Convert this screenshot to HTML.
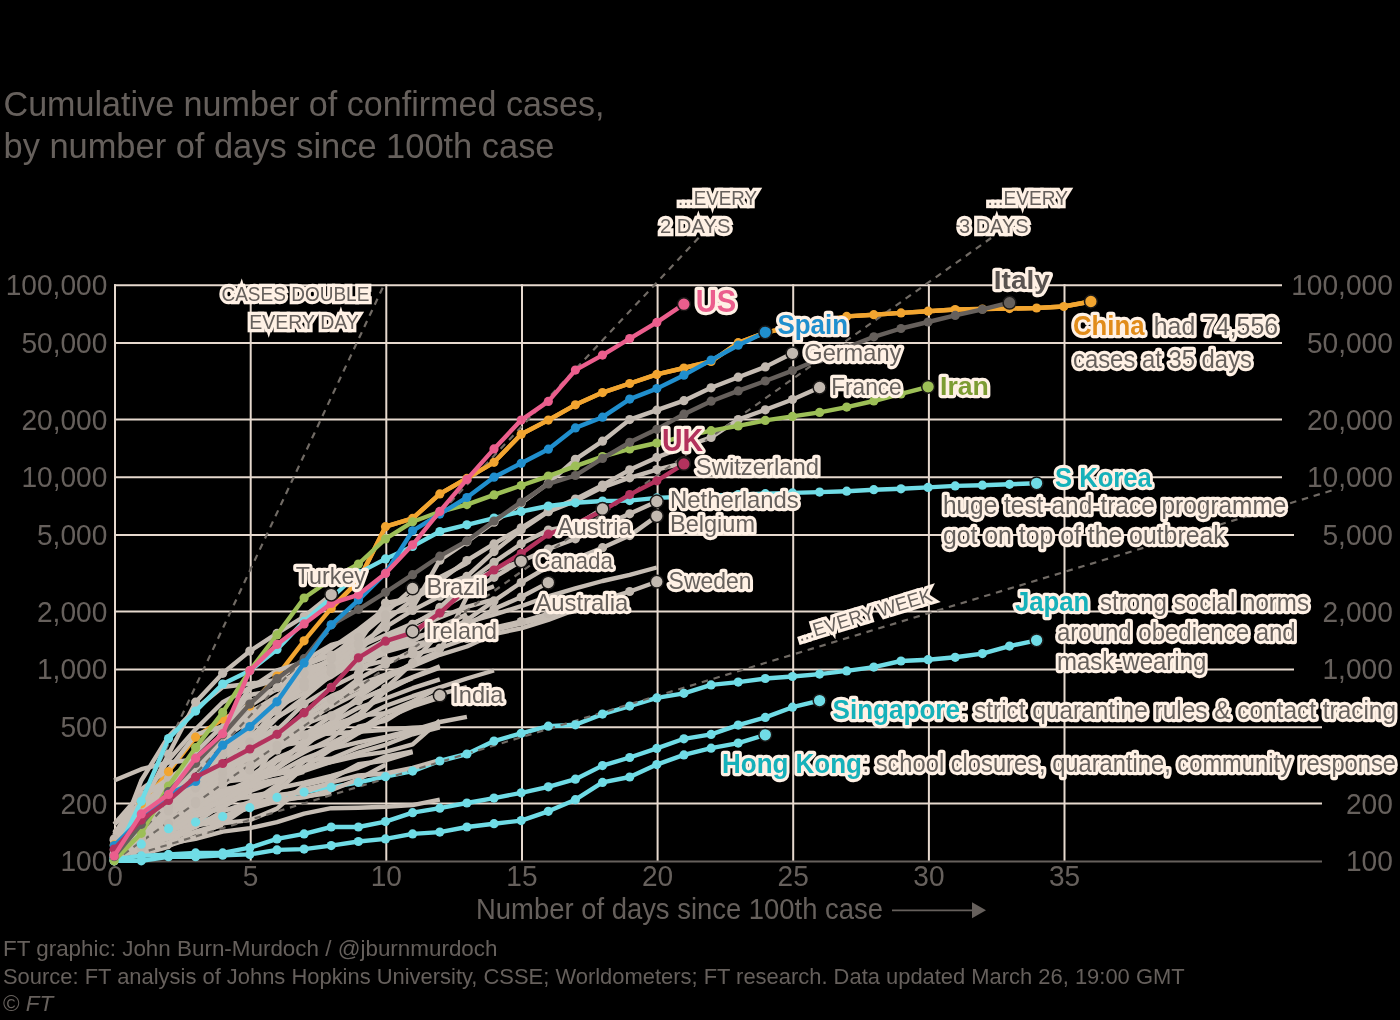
<!DOCTYPE html>
<html lang="en"><head><meta charset="utf-8"><title>Coronavirus trajectories</title>
<style>html,body{margin:0;padding:0;background:#000;}body{width:1400px;height:1020px;overflow:hidden;}svg{display:block;font-family:"Liberation Sans",Arial,sans-serif;}.h{stroke:#fff1e5;stroke-width:6.3px;paint-order:stroke fill;stroke-linejoin:round;}.m{stroke-linejoin:miter;stroke-miterlimit:3.4;}</style></head><body>
<svg width="1400" height="1020" viewBox="0 0 1400 1020">
<rect width="1400" height="1020" fill="#000"/>
<text x="3.5" y="115.7" font-size="34.5" fill="#66605c" textLength="601.0" lengthAdjust="spacingAndGlyphs">Cumulative number of confirmed cases,</text>
<text x="3.5" y="158.4" font-size="34.5" fill="#66605c" textLength="551.0" lengthAdjust="spacingAndGlyphs">by number of days since 100th case</text>
<g stroke="#e6d9ce" stroke-width="2" fill="none">
<line x1="114" y1="285.3" x2="1282" y2="285.3"/>
<line x1="114" y1="343.1" x2="1282" y2="343.1"/>
<line x1="114" y1="419.5" x2="1282" y2="419.5"/>
<line x1="114" y1="477.3" x2="1282" y2="477.3"/>
<line x1="114" y1="535.1" x2="1294" y2="535.1"/>
<line x1="114" y1="611.6" x2="1294" y2="611.6"/>
<line x1="114" y1="669.4" x2="1294" y2="669.4"/>
<line x1="114" y1="727.2" x2="1322" y2="727.2"/>
<line x1="114" y1="803.6" x2="1322" y2="803.6"/>
<line x1="115.0" y1="284.3" x2="115.0" y2="861.4"/>
<line x1="250.7" y1="284.3" x2="250.7" y2="861.4"/>
<line x1="386.3" y1="284.3" x2="386.3" y2="861.4"/>
<line x1="522.0" y1="284.3" x2="522.0" y2="861.4"/>
<line x1="657.6" y1="284.3" x2="657.6" y2="861.4"/>
<line x1="793.2" y1="284.3" x2="793.2" y2="861.4"/>
<line x1="928.9" y1="284.3" x2="928.9" y2="861.4"/>
<line x1="1064.5" y1="284.3" x2="1064.5" y2="861.4"/>
</g>
<line x1="114" y1="861.4" x2="1322" y2="861.4" stroke="#66605c" stroke-width="2"/>
<text x="5.7" y="295.3" font-size="29" fill="#66605c" textLength="101.6" lengthAdjust="spacingAndGlyphs">100,000</text>
<text x="1291.2" y="295.3" font-size="29" fill="#66605c" textLength="101.6" lengthAdjust="spacingAndGlyphs">100,000</text>
<text x="21.4" y="353.1" font-size="29" fill="#66605c" textLength="85.9" lengthAdjust="spacingAndGlyphs">50,000</text>
<text x="1306.9" y="353.1" font-size="29" fill="#66605c" textLength="85.9" lengthAdjust="spacingAndGlyphs">50,000</text>
<text x="21.4" y="429.5" font-size="29" fill="#66605c" textLength="85.9" lengthAdjust="spacingAndGlyphs">20,000</text>
<text x="1306.9" y="429.5" font-size="29" fill="#66605c" textLength="85.9" lengthAdjust="spacingAndGlyphs">20,000</text>
<text x="21.4" y="487.3" font-size="29" fill="#66605c" textLength="85.9" lengthAdjust="spacingAndGlyphs">10,000</text>
<text x="1306.9" y="487.3" font-size="29" fill="#66605c" textLength="85.9" lengthAdjust="spacingAndGlyphs">10,000</text>
<text x="37.0" y="545.1" font-size="29" fill="#66605c" textLength="70.3" lengthAdjust="spacingAndGlyphs">5,000</text>
<text x="1322.5" y="545.1" font-size="29" fill="#66605c" textLength="70.3" lengthAdjust="spacingAndGlyphs">5,000</text>
<text x="37.0" y="621.6" font-size="29" fill="#66605c" textLength="70.3" lengthAdjust="spacingAndGlyphs">2,000</text>
<text x="1322.5" y="621.6" font-size="29" fill="#66605c" textLength="70.3" lengthAdjust="spacingAndGlyphs">2,000</text>
<text x="37.0" y="679.4" font-size="29" fill="#66605c" textLength="70.3" lengthAdjust="spacingAndGlyphs">1,000</text>
<text x="1322.5" y="679.4" font-size="29" fill="#66605c" textLength="70.3" lengthAdjust="spacingAndGlyphs">1,000</text>
<text x="60.4" y="737.2" font-size="29" fill="#66605c" textLength="46.9" lengthAdjust="spacingAndGlyphs">500</text>
<text x="60.4" y="813.6" font-size="29" fill="#66605c" textLength="46.9" lengthAdjust="spacingAndGlyphs">200</text>
<text x="1345.9" y="813.6" font-size="29" fill="#66605c" textLength="46.9" lengthAdjust="spacingAndGlyphs">200</text>
<text x="60.4" y="871.4" font-size="29" fill="#66605c" textLength="46.9" lengthAdjust="spacingAndGlyphs">100</text>
<text x="1345.9" y="871.4" font-size="29" fill="#66605c" textLength="46.9" lengthAdjust="spacingAndGlyphs">100</text>
<text x="107.2" y="886.0" font-size="29" fill="#66605c" textLength="15.6" lengthAdjust="spacingAndGlyphs">0</text>
<text x="242.8" y="886.0" font-size="29" fill="#66605c" textLength="15.6" lengthAdjust="spacingAndGlyphs">5</text>
<text x="370.7" y="886.0" font-size="29" fill="#66605c" textLength="31.2" lengthAdjust="spacingAndGlyphs">10</text>
<text x="506.3" y="886.0" font-size="29" fill="#66605c" textLength="31.2" lengthAdjust="spacingAndGlyphs">15</text>
<text x="642.0" y="886.0" font-size="29" fill="#66605c" textLength="31.2" lengthAdjust="spacingAndGlyphs">20</text>
<text x="777.6" y="886.0" font-size="29" fill="#66605c" textLength="31.2" lengthAdjust="spacingAndGlyphs">25</text>
<text x="913.3" y="886.0" font-size="29" fill="#66605c" textLength="31.2" lengthAdjust="spacingAndGlyphs">30</text>
<text x="1048.9" y="886.0" font-size="29" fill="#66605c" textLength="31.2" lengthAdjust="spacingAndGlyphs">35</text>
<text x="476.0" y="919.2" font-size="29" fill="#66605c" textLength="407.0" lengthAdjust="spacingAndGlyphs">Number of days since 100th case</text>
<line x1="892" y1="910.3" x2="975" y2="910.3" stroke="#66605c" stroke-width="1.8"/>
<path d="M972 902.3 L986 910.3 L972 918.3 Z" fill="#66605c"/>
<path d="M114.2 856.7 L141.3 844.2 L168.5 828.7 L195.6 822.1 L222.7 816.5 L249.8 807.7 L277.0 797.4 L304.1 792.1 L331.2 787.4 L358.4 782.4 L385.5 776.7 L412.6 771.1 L439.8 761.0 L466.9 754.0 L494.0 741.1 L521.2 733.3 L548.3 726.2 L575.4 724.8 L602.5 714.1 L629.7 706.1 L656.8 697.9 L683.9 693.3 L711.1 684.9 L738.2 682.1 L765.3 678.5 L792.5 676.5 L819.6 674.1 L846.7 670.9 L873.8 667.1 L901.0 661.0 L928.1 659.7 L955.2 657.3 L982.4 653.6 L1009.5 646.1 L1036.6 640.3" fill="none" stroke="#70dce6" stroke-width="4.4" stroke-linejoin="round" stroke-linecap="butt"/>
<path d="M114.2 844.9 L141.3 803.8 L168.5 771.7 L195.6 737.2 L222.7 719.1 L249.8 706.1 L277.0 676.1 L304.1 640.8 L331.2 608.4 L358.4 581.0 L385.5 526.7 L412.6 518.4 L439.8 493.9 L466.9 478.4 L494.0 462.3 L521.2 434.3 L548.3 420.1 L575.4 404.8 L602.5 392.6 L629.7 383.5 L656.8 374.4 L683.9 368.0 L711.1 361.5 L738.2 342.7 L765.3 332.6 L792.5 326.6 L819.6 321.3 L846.7 316.4 L873.8 314.7 L901.0 312.9 L928.1 311.2 L955.2 309.5 L982.4 309.0 L1009.5 308.6 L1036.6 308.0 L1063.8 306.5 L1090.9 301.5" fill="none" stroke="#f2a530" stroke-width="4.4" stroke-linejoin="round" stroke-linecap="butt"/>
<g>
<path d="M114.2 854.4 L141.3 828.7 L168.5 813.7 L195.6 800.9 L222.7 745.2 L249.8 711.7 L277.0 698.3 L304.1 669.1 L331.2 661.6 L358.4 652.1 L385.5 644.8 L412.6 637.0 L439.8 632.2 L466.9 622.3 L494.0 614.6 L521.2 606.2 L548.3 596.3 L575.4 588.4 L602.5 581.0 L629.7 574.8 L656.8 567.5" fill="none" stroke="#c6bdb4" stroke-width="4.4" stroke-linejoin="round" stroke-linecap="butt"/>
<path d="M114.2 850.6 L141.3 780.5 L168.5 736.5 L195.6 709.0 L222.7 687.0 L249.8 683.7 L277.0 679.9 L304.1 674.6 L331.2 666.7 L358.4 659.6 L385.5 651.8 L412.6 644.5 L439.8 639.5 L466.9 634.2 L494.0 630.0 L521.2 623.6 L548.3 616.9 L575.4 610.0" fill="none" stroke="#c6bdb4" stroke-width="4.4" stroke-linejoin="round" stroke-linecap="butt"/>
<path d="M114.2 851.3 L141.3 817.0 L168.5 786.1 L195.6 761.0 L222.7 735.7 L249.8 705.7 L277.0 689.0 L304.1 667.1 L331.2 648.2 L358.4 629.6 L385.5 608.5 L412.6 597.1 L439.8 577.3 L466.9 563.3" fill="none" stroke="#c6bdb4" stroke-width="4.4" stroke-linejoin="round" stroke-linecap="butt"/>
<path d="M114.2 832.1 L141.3 807.7 L168.5 783.4 L195.6 769.7 L222.7 746.0 L249.8 732.8 L277.0 699.2 L304.1 684.0 L331.2 669.2 L358.4 659.3 L385.5 651.1 L412.6 641.1 L439.8 626.8 L466.9 614.2" fill="none" stroke="#c6bdb4" stroke-width="4.4" stroke-linejoin="round" stroke-linecap="butt"/>
<path d="M114.2 860.8 L141.3 841.5 L168.5 824.3 L195.6 797.7 L222.7 795.8 L249.8 784.4 L277.0 768.1 L304.1 739.7 L331.2 721.9 L358.4 697.1 L385.5 679.1 L412.6 663.0 L439.8 651.0 L466.9 596.8 L494.0 586.2" fill="none" stroke="#c6bdb4" stroke-width="4.4" stroke-linejoin="round" stroke-linecap="butt"/>
<path d="M114.2 847.7 L141.3 839.6 L168.5 827.5 L195.6 822.7 L222.7 804.3 L249.8 788.5 L277.0 739.5 L304.1 716.2 L331.2 701.8 L358.4 688.4 L385.5 677.6 L412.6 666.3 L439.8 654.8 L466.9 646.5 L494.0 634.0 L521.2 628.3 L548.3 619.9 L575.4 609.7" fill="none" stroke="#c6bdb4" stroke-width="4.4" stroke-linejoin="round" stroke-linecap="butt"/>
<path d="M114.2 861.6 L141.3 807.3 L168.5 792.1 L195.6 761.0 L222.7 755.8 L249.8 747.9 L277.0 741.5 L304.1 732.8 L331.2 727.4 L358.4 719.4 L385.5 706.0 L412.6 696.2 L439.8 687.4 L466.9 678.5 L494.0 670.5" fill="none" stroke="#c6bdb4" stroke-width="4.4" stroke-linejoin="round" stroke-linecap="butt"/>
<path d="M114.2 824.3 L141.3 793.2 L168.5 786.4 L195.6 775.8 L222.7 763.5 L249.8 759.7 L277.0 745.2 L304.1 735.4 L331.2 722.8 L358.4 707.8 L385.5 698.5 L412.6 688.2 L439.8 679.4" fill="none" stroke="#c6bdb4" stroke-width="4.4" stroke-linejoin="round" stroke-linecap="butt"/>
<path d="M114.2 836.4 L141.3 823.7 L168.5 816.1 L195.6 811.8 L222.7 795.0 L249.8 784.4 L277.0 761.2 L304.1 743.3 L331.2 731.2 L358.4 715.9 L385.5 713.1 L412.6 705.0 L439.8 694.2 L466.9 687.2" fill="none" stroke="#c6bdb4" stroke-width="4.4" stroke-linejoin="round" stroke-linecap="butt"/>
<path d="M114.2 858.3 L141.3 846.3 L168.5 813.2 L195.6 788.5 L222.7 784.1 L249.8 755.1 L277.0 740.1 L304.1 720.8 L331.2 706.8 L358.4 692.9 L385.5 677.5 L412.6 664.6 L439.8 652.1" fill="none" stroke="#c6bdb4" stroke-width="4.4" stroke-linejoin="round" stroke-linecap="butt"/>
<path d="M114.2 832.1 L141.3 811.3 L168.5 795.4 L195.6 783.4 L222.7 776.4 L249.8 774.9 L277.0 773.2 L304.1 758.5 L331.2 748.8 L358.4 742.3 L385.5 736.9 L412.6 730.0 L439.8 722.0 L466.9 716.8" fill="none" stroke="#c6bdb4" stroke-width="4.4" stroke-linejoin="round" stroke-linecap="butt"/>
<path d="M114.2 843.5 L141.3 838.3 L168.5 822.7 L195.6 809.9 L222.7 781.1 L249.8 775.8 L277.0 767.0 L304.1 752.4 L331.2 738.6 L358.4 714.8 L385.5 688.0 L412.6 677.0 L439.8 666.4" fill="none" stroke="#c6bdb4" stroke-width="4.4" stroke-linejoin="round" stroke-linecap="butt"/>
<path d="M114.2 849.1 L141.3 816.1 L168.5 800.9 L195.6 793.2 L222.7 781.8 L249.8 778.9 L277.0 774.0 L304.1 767.5 L331.2 762.2 L358.4 755.8 L385.5 751.9 L412.6 744.4 L439.8 720.5" fill="none" stroke="#c6bdb4" stroke-width="4.4" stroke-linejoin="round" stroke-linecap="butt"/>
<path d="M114.2 780.5 L141.3 769.2 L168.5 762.5 L195.6 759.5 L222.7 745.0 L249.8 737.4 L277.0 736.3 L304.1 735.0 L331.2 733.5 L358.4 731.7 L385.5 729.8 L412.6 727.6 L439.8 726.4" fill="none" stroke="#c6bdb4" stroke-width="4.4" stroke-linejoin="round" stroke-linecap="butt"/>
<path d="M114.2 852.9 L141.3 805.1 L168.5 804.7 L195.6 803.4 L222.7 798.9 L249.8 797.4 L277.0 795.0 L304.1 792.1 L331.2 782.4 L358.4 775.5 L385.5 773.5 L412.6 767.8 L439.8 760.2" fill="none" stroke="#c6bdb4" stroke-width="4.4" stroke-linejoin="round" stroke-linecap="butt"/>
<path d="M114.2 857.5 L141.3 851.3 L168.5 843.5 L195.6 838.9 L222.7 831.6 L249.8 828.1 L277.0 822.1 L304.1 813.7 L331.2 808.2 L358.4 807.7 L385.5 806.8 L412.6 805.1 L439.8 799.7" fill="none" stroke="#c6bdb4" stroke-width="4.4" stroke-linejoin="round" stroke-linecap="butt"/>
<path d="M114.2 853.6 L141.3 852.9 L168.5 827.0 L195.6 804.7 L222.7 803.0 L249.8 782.4 L277.0 773.5 L304.1 770.9 L331.2 762.0 L358.4 752.6 L385.5 744.8 L412.6 734.3 L439.8 727.4" fill="none" stroke="#c6bdb4" stroke-width="4.4" stroke-linejoin="round" stroke-linecap="butt"/>
<path d="M114.2 852.9 L141.3 848.4 L168.5 842.9 L195.6 824.8 L222.7 819.5 L249.8 806.4 L277.0 799.7 L304.1 797.4 L331.2 790.3 L358.4 779.2 L385.5 764.8" fill="none" stroke="#c6bdb4" stroke-width="4.4" stroke-linejoin="round" stroke-linecap="butt"/>
<path d="M114.2 852.9 L141.3 849.1 L168.5 845.6 L195.6 837.0 L222.7 823.2 L249.8 820.1 L277.0 808.6 L304.1 785.1 L331.2 778.9 L358.4 764.3 L385.5 760.5 L412.6 752.1" fill="none" stroke="#c6bdb4" stroke-width="4.4" stroke-linejoin="round" stroke-linecap="butt"/>
<path d="M114.2 852.1 L141.3 832.7 L168.5 831.6 L195.6 808.6 L222.7 802.2 L249.8 796.2 L277.0 791.3 L304.1 767.3 L331.2 749.5 L358.4 733.2 L385.5 718.3 L412.6 706.5 L439.8 697.7" fill="none" stroke="#c6bdb4" stroke-width="4.4" stroke-linejoin="round" stroke-linecap="butt"/>
<path d="M114.2 847.7 L141.3 836.4 L168.5 815.6 L195.6 792.4 L222.7 766.2 L249.8 751.9 L277.0 735.4 L304.1 724.3 L331.2 714.3 L358.4 700.2 L385.5 688.4 L412.6 678.2" fill="none" stroke="#c6bdb4" stroke-width="4.4" stroke-linejoin="round" stroke-linecap="butt"/>
<path d="M114.2 849.9 L141.3 828.7 L168.5 813.2 L195.6 798.1 L222.7 777.3 L249.8 763.3 L277.0 742.9 L304.1 711.5 L331.2 696.1 L358.4 684.6 L385.5 674.5 L412.6 665.1" fill="none" stroke="#c6bdb4" stroke-width="4.4" stroke-linejoin="round" stroke-linecap="butt"/>
<path d="M114.2 835.2 L141.3 789.2 L168.5 769.5 L195.6 734.6 L222.7 726.4 L249.8 695.0 L277.0 689.9 L304.1 679.9 L331.2 671.1 L358.4 663.7 L385.5 653.5" fill="none" stroke="#c6bdb4" stroke-width="4.4" stroke-linejoin="round" stroke-linecap="butt"/>
<path d="M114.2 858.3 L141.3 854.4 L168.5 847.0 L195.6 816.1 L222.7 807.3 L249.8 776.7 L277.0 757.8 L304.1 746.9 L331.2 724.8 L358.4 716.8 L385.5 690.9 L412.6 677.6 L439.8 667.8" fill="none" stroke="#c6bdb4" stroke-width="4.4" stroke-linejoin="round" stroke-linecap="butt"/>
<path d="M114.2 824.3 L141.3 802.6 L168.5 788.5 L195.6 778.0 L222.7 738.4 L249.8 720.6 L277.0 707.0 L304.1 693.2 L331.2 675.5 L358.4 657.7 L385.5 646.5" fill="none" stroke="#c6bdb4" stroke-width="4.4" stroke-linejoin="round" stroke-linecap="butt"/>
<path d="M114.2 852.1 L141.3 817.5 L168.5 803.4 L195.6 752.4 L222.7 725.6 L249.8 688.5 L277.0 670.4 L304.1 662.2 L331.2 655.5 L358.4 640.5" fill="none" stroke="#c6bdb4" stroke-width="4.4" stroke-linejoin="round" stroke-linecap="butt"/>
<path d="M114.2 847.7 L141.3 829.8 L168.5 789.9 L195.6 787.8 L222.7 764.3 L249.8 753.3 L277.0 746.2 L304.1 741.9 L331.2 730.0 L358.4 714.2" fill="none" stroke="#c6bdb4" stroke-width="4.4" stroke-linejoin="round" stroke-linecap="butt"/>
<path d="M114.2 847.0 L141.3 819.5 L168.5 801.8 L195.6 784.1 L222.7 764.8 L249.8 752.4 L277.0 744.2 L304.1 730.9" fill="none" stroke="#c6bdb4" stroke-width="4.4" stroke-linejoin="round" stroke-linecap="butt"/>
<path d="M114.2 849.9 L141.3 828.7 L168.5 803.4 L195.6 783.4 L222.7 767.5 L249.8 752.4 L277.0 737.6 L304.1 727.4 L331.2 703.7 L358.4 683.3" fill="none" stroke="#c6bdb4" stroke-width="4.4" stroke-linejoin="round" stroke-linecap="butt"/>
<path d="M114.2 848.4 L141.3 827.0 L168.5 802.2 L195.6 787.8 L222.7 776.7 L249.8 744.8 L277.0 718.0 L304.1 697.5 L331.2 675.1" fill="none" stroke="#c6bdb4" stroke-width="4.4" stroke-linejoin="round" stroke-linecap="butt"/>
<path d="M114.2 832.7 L141.3 801.8 L168.5 760.0 L195.6 729.3 L222.7 702.2 L249.8 687.6 L277.0 679.9 L304.1 660.9 L331.2 644.8 L358.4 637.6" fill="none" stroke="#c6bdb4" stroke-width="4.4" stroke-linejoin="round" stroke-linecap="butt"/>
<path d="M114.2 840.2 L141.3 822.7 L168.5 779.2 L195.6 768.9 L222.7 747.9 L249.8 745.2 L277.0 726.2" fill="none" stroke="#c6bdb4" stroke-width="4.4" stroke-linejoin="round" stroke-linecap="butt"/>
<path d="M114.2 859.1 L141.3 840.2 L168.5 804.7 L195.6 791.0 L222.7 775.8 L249.8 749.9 L277.0 731.7 L304.1 728.1" fill="none" stroke="#c6bdb4" stroke-width="4.4" stroke-linejoin="round" stroke-linecap="butt"/>
<path d="M114.2 834.5 L141.3 803.0 L168.5 786.1 L195.6 765.6 L222.7 757.5 L249.8 736.7 L277.0 717.4 L304.1 701.7" fill="none" stroke="#c6bdb4" stroke-width="4.4" stroke-linejoin="round" stroke-linecap="butt"/>
<path d="M114.2 856.7 L141.3 840.2 L168.5 800.5 L195.6 783.1 L222.7 765.1 L249.8 749.0 L277.0 736.9 L304.1 727.4" fill="none" stroke="#c6bdb4" stroke-width="4.4" stroke-linejoin="round" stroke-linecap="butt"/>
<path d="M114.2 858.3 L141.3 835.8 L168.5 816.1 L195.6 794.3 L222.7 784.7 L249.8 768.3 L277.0 748.6 L304.1 734.1" fill="none" stroke="#c6bdb4" stroke-width="4.4" stroke-linejoin="round" stroke-linecap="butt"/>
<path d="M114.2 849.1 L141.3 835.2 L168.5 821.6 L195.6 805.5 L222.7 789.5 L249.8 784.7 L277.0 779.5 L304.1 772.0" fill="none" stroke="#c6bdb4" stroke-width="4.4" stroke-linejoin="round" stroke-linecap="butt"/>
<path d="M114.2 840.9 L141.3 820.1 L168.5 808.6 L195.6 802.6 L222.7 795.8 L249.8 787.1 L277.0 779.8" fill="none" stroke="#c6bdb4" stroke-width="4.4" stroke-linejoin="round" stroke-linecap="butt"/>
<path d="M114.2 842.9 L141.3 833.3 L168.5 811.8 L195.6 804.3 L222.7 794.7 L249.8 786.4" fill="none" stroke="#c6bdb4" stroke-width="4.4" stroke-linejoin="round" stroke-linecap="butt"/>
<path d="M114.2 856.7 L141.3 843.5 L168.5 834.5 L195.6 812.7 L222.7 809.5 L249.8 809.0 L277.0 801.3 L304.1 796.6 L331.2 792.8" fill="none" stroke="#c6bdb4" stroke-width="4.4" stroke-linejoin="round" stroke-linecap="butt"/>
<path d="M114.2 858.3 L141.3 838.3 L168.5 818.0 L195.6 808.6 L222.7 792.8 L249.8 780.8" fill="none" stroke="#c6bdb4" stroke-width="4.4" stroke-linejoin="round" stroke-linecap="butt"/>
<path d="M114.2 833.3 L141.3 802.6 L168.5 791.3 L195.6 779.8 L222.7 768.6 L249.8 752.4" fill="none" stroke="#c6bdb4" stroke-width="4.4" stroke-linejoin="round" stroke-linecap="butt"/>
<path d="M114.2 849.1 L141.3 831.0 L168.5 816.5 L195.6 793.2 L222.7 776.4" fill="none" stroke="#c6bdb4" stroke-width="4.4" stroke-linejoin="round" stroke-linecap="butt"/>
<path d="M114.2 860.8 L141.3 854.4 L168.5 835.8 L195.6 825.3 L222.7 817.0 L249.8 805.1 L277.0 797.0 L304.1 789.5 L331.2 783.7" fill="none" stroke="#c6bdb4" stroke-width="4.4" stroke-linejoin="round" stroke-linecap="butt"/>
<path d="M114.2 850.6 L141.3 843.5 L168.5 836.4 L195.6 832.1 L222.7 825.3" fill="none" stroke="#c6bdb4" stroke-width="4.4" stroke-linejoin="round" stroke-linecap="butt"/>
<path d="M114.2 850.6 L141.3 832.7 L168.5 829.2 L195.6 825.3 L222.7 821.6 L249.8 803.8 L277.0 785.1 L304.1 760.5 L331.2 758.7" fill="none" stroke="#c6bdb4" stroke-width="4.4" stroke-linejoin="round" stroke-linecap="butt"/>
<path d="M114.2 851.3 L141.3 802.2 L168.5 786.1 L195.6 765.9 L222.7 746.9 L249.8 728.6" fill="none" stroke="#c6bdb4" stroke-width="4.4" stroke-linejoin="round" stroke-linecap="butt"/>
<path d="M114.2 838.3 L141.3 831.0 L168.5 812.2 L195.6 799.3 L222.7 776.7 L249.8 769.5" fill="none" stroke="#c6bdb4" stroke-width="4.4" stroke-linejoin="round" stroke-linecap="butt"/>
<path d="M114.2 859.1 L141.3 824.3 L168.5 800.9 L195.6 774.0" fill="none" stroke="#c6bdb4" stroke-width="4.4" stroke-linejoin="round" stroke-linecap="butt"/>
<path d="M114.2 852.9 L141.3 831.6 L168.5 809.0 L195.6 784.4 L222.7 770.3 L249.8 758.3 L277.0 744.8 L304.1 736.7 L331.2 723.3" fill="none" stroke="#c6bdb4" stroke-width="4.4" stroke-linejoin="round" stroke-linecap="butt"/>
<path d="M114.2 857.5 L141.3 847.0 L168.5 838.3 L195.6 827.0 L222.7 811.3 L249.8 802.2 L277.0 788.5 L304.1 782.7 L331.2 775.8 L358.4 767.8 L385.5 756.6 L412.6 751.5" fill="none" stroke="#c6bdb4" stroke-width="4.4" stroke-linejoin="round" stroke-linecap="butt"/>
<path d="M114.2 860.0 L141.3 845.6 L168.5 827.5 L195.6 813.7 L222.7 801.3 L249.8 784.4 L277.0 768.6 L304.1 749.5 L331.2 743.1 L358.4 730.0 L385.5 712.8 L412.6 701.5 L439.8 687.4" fill="none" stroke="#c6bdb4" stroke-width="4.4" stroke-linejoin="round" stroke-linecap="butt"/>
<path d="M114.2 845.6 L141.3 816.5 L168.5 787.8 L195.6 761.2 L222.7 735.4 L249.8 712.8 L277.0 696.2 L304.1 676.6 L331.2 660.1 L358.4 646.9 L385.5 635.0 L412.6 623.5 L439.8 611.4" fill="none" stroke="#c6bdb4" stroke-width="4.4" stroke-linejoin="round" stroke-linecap="butt"/>
<path d="M114.2 855.9 L141.3 842.2 L168.5 832.7 L195.6 816.5 L222.7 807.3 L249.8 791.3 L277.0 781.1 L304.1 769.2 L331.2 758.7 L358.4 747.3 L385.5 739.2 L412.6 731.7 L439.8 723.3" fill="none" stroke="#c6bdb4" stroke-width="4.4" stroke-linejoin="round" stroke-linecap="butt"/>
<path d="M114.2 860.8 L141.3 821.6 L168.5 791.3 L195.6 769.2 L222.7 741.1 L249.8 717.1 L277.0 698.5 L304.1 682.3 L331.2 665.5 L358.4 654.3 L385.5 640.1 L412.6 629.6 L439.8 617.5 L466.9 606.9 L494.0 599.3" fill="none" stroke="#c6bdb4" stroke-width="4.4" stroke-linejoin="round" stroke-linecap="butt"/>
<path d="M114.2 838.9 L141.3 822.1 L168.5 804.7 L195.6 780.5 L222.7 729.6 L249.8 702.2 L277.0 687.5 L304.1 665.5 L331.2 655.2 L358.4 637.4 L385.5 614.9 L412.6 607.8 L439.8 560.2 L466.9 541.8 L494.0 522.2 L521.2 503.3 L548.3 483.2 L575.4 459.3 L602.5 441.2 L629.7 419.6 L656.8 410.2 L683.9 400.7 L711.1 387.8 L738.2 377.2 L765.3 366.9 L792.5 353.3" fill="none" stroke="#c6bdb4" stroke-width="4.4" stroke-linejoin="round" stroke-linecap="butt"/>
<path d="M114.2 860.8 L141.3 838.9 L168.5 806.8 L195.6 801.3 L222.7 773.5 L249.8 750.1 L277.0 704.3 L304.1 673.1 L331.2 658.9 L358.4 652.9 L385.5 620.5 L412.6 600.0 L439.8 580.7 L466.9 560.5 L494.0 543.9 L521.2 527.8 L548.3 511.0 L575.4 499.1 L602.5 485.1 L629.7 469.8 L656.8 457.4 L683.9 447.0 L711.1 437.4 L738.2 419.5 L765.3 409.8 L792.5 399.5 L819.6 387.5" fill="none" stroke="#c6bdb4" stroke-width="4.4" stroke-linejoin="round" stroke-linecap="butt"/>
<path d="M114.2 849.9 L141.3 797.4 L168.5 778.6 L195.6 759.5 L222.7 750.8 L249.8 728.1 L277.0 704.4 L304.1 681.5 L331.2 657.9 L358.4 643.2 L385.5 603.0 L412.6 598.2 L439.8 585.9 L466.9 576.4 L494.0 551.6 L521.2 529.8 L548.3 511.7 L575.4 501.0 L602.5 487.4 L629.7 477.8 L656.8 469.6 L683.9 462.9" fill="none" stroke="#c6bdb4" stroke-width="4.4" stroke-linejoin="round" stroke-linecap="butt"/>
<path d="M114.2 840.2 L141.3 808.2 L168.5 779.5 L195.6 763.5 L222.7 749.0 L249.8 726.1 L277.0 709.4 L304.1 687.0 L331.2 672.3 L358.4 658.2 L385.5 639.9 L412.6 624.3 L439.8 608.9 L466.9 593.7 L494.0 577.3 L521.2 561.2 L548.3 549.0 L575.4 538.8 L602.5 525.7 L629.7 513.8 L656.8 501.5" fill="none" stroke="#c6bdb4" stroke-width="4.4" stroke-linejoin="round" stroke-linecap="butt"/>
<path d="M114.2 853.6 L141.3 817.0 L168.5 803.0 L195.6 788.1 L222.7 778.9 L249.8 765.4 L277.0 745.4 L304.1 717.3 L331.2 699.8 L358.4 678.9 L385.5 664.1 L412.6 650.6 L439.8 635.7 L466.9 620.0 L494.0 600.9 L521.2 582.5 L548.3 566.7 L575.4 558.7 L602.5 547.7 L629.7 535.6 L656.8 516.1" fill="none" stroke="#c6bdb4" stroke-width="4.4" stroke-linejoin="round" stroke-linecap="butt"/>
<path d="M114.2 857.5 L141.3 838.3 L168.5 810.9 L195.6 785.7 L222.7 768.6 L249.8 725.9 L277.0 704.1 L304.1 681.3 L331.2 667.3 L358.4 644.9 L385.5 627.2 L412.6 610.4 L439.8 596.2 L466.9 582.5 L494.0 562.4 L521.2 543.8 L548.3 530.0 L575.4 525.3 L602.5 508.9" fill="none" stroke="#c6bdb4" stroke-width="4.4" stroke-linejoin="round" stroke-linecap="butt"/>
<path d="M114.2 854.4 L141.3 847.7 L168.5 806.0 L195.6 803.8 L222.7 783.7 L249.8 742.1 L277.0 730.3 L304.1 703.8 L331.2 687.4 L358.4 673.7 L385.5 648.4 L412.6 636.7 L439.8 607.4 L466.9 583.2 L494.0 570.4 L521.2 561.3" fill="none" stroke="#c6bdb4" stroke-width="4.4" stroke-linejoin="round" stroke-linecap="butt"/>
<path d="M114.2 860.0 L141.3 821.1 L168.5 801.8 L195.6 785.1 L222.7 755.1 L249.8 726.6 L277.0 711.5 L304.1 685.9 L331.2 672.1 L358.4 667.0 L385.5 660.6 L412.6 654.3 L439.8 648.2 L466.9 638.4 L494.0 627.6 L521.2 621.5 L548.3 613.8 L575.4 609.1 L602.5 599.8 L629.7 591.5 L656.8 581.7" fill="none" stroke="#c6bdb4" stroke-width="4.4" stroke-linejoin="round" stroke-linecap="butt"/>
<path d="M114.2 855.2 L141.3 840.2 L168.5 823.7 L195.6 803.0 L222.7 784.4 L249.8 770.0 L277.0 750.1 L304.1 735.0 L331.2 715.9 L358.4 700.8 L385.5 688.3 L412.6 663.0 L439.8 632.3 L466.9 625.4 L494.0 609.1 L521.2 597.0 L548.3 582.6" fill="none" stroke="#c6bdb4" stroke-width="4.4" stroke-linejoin="round" stroke-linecap="butt"/>
<path d="M114.2 844.9 L141.3 826.4 L168.5 803.0 L195.6 789.9 L222.7 771.7 L249.8 739.5 L277.0 708.5 L304.1 677.2 L331.2 658.7 L358.4 632.4 L385.5 612.6 L412.6 588.4" fill="none" stroke="#c6bdb4" stroke-width="4.4" stroke-linejoin="round" stroke-linecap="butt"/>
<path d="M114.2 860.8 L141.3 806.8 L168.5 754.2 L195.6 702.2 L222.7 673.3 L249.8 651.1 L277.0 633.4 L304.1 616.5 L331.2 594.6" fill="none" stroke="#c6bdb4" stroke-width="4.4" stroke-linejoin="round" stroke-linecap="butt"/>
<path d="M114.2 839.6 L141.3 832.7 L168.5 817.0 L195.6 793.9 L222.7 771.4 L249.8 717.6 L277.0 700.6 L304.1 689.0 L331.2 677.0 L358.4 658.9 L385.5 645.0 L412.6 631.5" fill="none" stroke="#c6bdb4" stroke-width="4.4" stroke-linejoin="round" stroke-linecap="butt"/>
<path d="M114.2 859.1 L141.3 850.6 L168.5 846.3 L195.6 831.6 L222.7 823.7 L249.8 805.5 L277.0 786.4 L304.1 761.2 L331.2 746.0 L358.4 726.7 L385.5 720.8 L412.6 703.8 L439.8 695.4" fill="none" stroke="#c6bdb4" stroke-width="4.4" stroke-linejoin="round" stroke-linecap="butt"/>
</g>
<line x1="113.4" y1="861.4" x2="384.9" y2="283.0" stroke="#706a64" stroke-width="2.2" stroke-dasharray="6.5 5.8"/>
<line x1="113.4" y1="861.4" x2="700.4" y2="236.0" stroke="#706a64" stroke-width="2.2" stroke-dasharray="6.5 5.8"/>
<line x1="113.4" y1="861.4" x2="991.1" y2="238.0" stroke="#706a64" stroke-width="2.2" stroke-dasharray="6.5 5.8"/>
<line x1="113.4" y1="861.4" x2="1333.4" y2="490.0" stroke="#706a64" stroke-width="2.2" stroke-dasharray="6.5 5.8"/>
<g fill="#c2b9b0"><circle cx="114.2" cy="838.9" r="4.6"/><circle cx="141.3" cy="822.1" r="4.6"/><circle cx="168.5" cy="804.7" r="4.6"/><circle cx="195.6" cy="780.5" r="4.6"/><circle cx="222.7" cy="729.6" r="4.6"/><circle cx="249.8" cy="702.2" r="4.6"/><circle cx="277.0" cy="687.5" r="4.6"/><circle cx="304.1" cy="665.5" r="4.6"/><circle cx="331.2" cy="655.2" r="4.6"/><circle cx="358.4" cy="637.4" r="4.6"/><circle cx="385.5" cy="614.9" r="4.6"/><circle cx="412.6" cy="607.8" r="4.6"/><circle cx="439.8" cy="560.2" r="4.6"/><circle cx="466.9" cy="541.8" r="4.6"/><circle cx="494.0" cy="522.2" r="4.6"/><circle cx="521.2" cy="503.3" r="4.6"/><circle cx="548.3" cy="483.2" r="4.6"/><circle cx="575.4" cy="459.3" r="4.6"/><circle cx="602.5" cy="441.2" r="4.6"/><circle cx="629.7" cy="419.6" r="4.6"/><circle cx="656.8" cy="410.2" r="4.6"/><circle cx="683.9" cy="400.7" r="4.6"/><circle cx="711.1" cy="387.8" r="4.6"/><circle cx="738.2" cy="377.2" r="4.6"/><circle cx="765.3" cy="366.9" r="4.6"/></g>
<g fill="#c2b9b0"><circle cx="114.2" cy="860.8" r="4.6"/><circle cx="141.3" cy="838.9" r="4.6"/><circle cx="168.5" cy="806.8" r="4.6"/><circle cx="195.6" cy="801.3" r="4.6"/><circle cx="222.7" cy="773.5" r="4.6"/><circle cx="249.8" cy="750.1" r="4.6"/><circle cx="277.0" cy="704.3" r="4.6"/><circle cx="304.1" cy="673.1" r="4.6"/><circle cx="331.2" cy="658.9" r="4.6"/><circle cx="358.4" cy="652.9" r="4.6"/><circle cx="385.5" cy="620.5" r="4.6"/><circle cx="412.6" cy="600.0" r="4.6"/><circle cx="439.8" cy="580.7" r="4.6"/><circle cx="466.9" cy="560.5" r="4.6"/><circle cx="494.0" cy="543.9" r="4.6"/><circle cx="521.2" cy="527.8" r="4.6"/><circle cx="548.3" cy="511.0" r="4.6"/><circle cx="575.4" cy="499.1" r="4.6"/><circle cx="602.5" cy="485.1" r="4.6"/><circle cx="629.7" cy="469.8" r="4.6"/><circle cx="656.8" cy="457.4" r="4.6"/><circle cx="683.9" cy="447.0" r="4.6"/><circle cx="711.1" cy="437.4" r="4.6"/><circle cx="738.2" cy="419.5" r="4.6"/><circle cx="765.3" cy="409.8" r="4.6"/><circle cx="792.5" cy="399.5" r="4.6"/></g>
<g fill="#c2b9b0"><circle cx="114.2" cy="849.9" r="4.6"/><circle cx="141.3" cy="797.4" r="4.6"/><circle cx="168.5" cy="778.6" r="4.6"/><circle cx="195.6" cy="759.5" r="4.6"/><circle cx="222.7" cy="750.8" r="4.6"/><circle cx="249.8" cy="728.1" r="4.6"/><circle cx="277.0" cy="704.4" r="4.6"/><circle cx="304.1" cy="681.5" r="4.6"/><circle cx="331.2" cy="657.9" r="4.6"/><circle cx="358.4" cy="643.2" r="4.6"/><circle cx="385.5" cy="603.0" r="4.6"/><circle cx="412.6" cy="598.2" r="4.6"/><circle cx="439.8" cy="585.9" r="4.6"/><circle cx="466.9" cy="576.4" r="4.6"/><circle cx="494.0" cy="551.6" r="4.6"/><circle cx="521.2" cy="529.8" r="4.6"/><circle cx="548.3" cy="511.7" r="4.6"/><circle cx="575.4" cy="501.0" r="4.6"/><circle cx="602.5" cy="487.4" r="4.6"/><circle cx="629.7" cy="477.8" r="4.6"/><circle cx="656.8" cy="469.6" r="4.6"/></g>
<g fill="#c2b9b0"><circle cx="114.2" cy="840.2" r="4.6"/><circle cx="141.3" cy="808.2" r="4.6"/><circle cx="168.5" cy="779.5" r="4.6"/><circle cx="195.6" cy="763.5" r="4.6"/><circle cx="222.7" cy="749.0" r="4.6"/><circle cx="249.8" cy="726.1" r="4.6"/><circle cx="277.0" cy="709.4" r="4.6"/><circle cx="304.1" cy="687.0" r="4.6"/><circle cx="331.2" cy="672.3" r="4.6"/><circle cx="358.4" cy="658.2" r="4.6"/><circle cx="385.5" cy="639.9" r="4.6"/><circle cx="412.6" cy="624.3" r="4.6"/><circle cx="439.8" cy="608.9" r="4.6"/><circle cx="466.9" cy="593.7" r="4.6"/><circle cx="494.0" cy="577.3" r="4.6"/><circle cx="521.2" cy="561.2" r="4.6"/><circle cx="548.3" cy="549.0" r="4.6"/><circle cx="575.4" cy="538.8" r="4.6"/><circle cx="602.5" cy="525.7" r="4.6"/><circle cx="629.7" cy="513.8" r="4.6"/></g>
<g fill="#c2b9b0"><circle cx="114.2" cy="853.6" r="4.6"/><circle cx="141.3" cy="817.0" r="4.6"/><circle cx="168.5" cy="803.0" r="4.6"/><circle cx="195.6" cy="788.1" r="4.6"/><circle cx="222.7" cy="778.9" r="4.6"/><circle cx="249.8" cy="765.4" r="4.6"/><circle cx="277.0" cy="745.4" r="4.6"/><circle cx="304.1" cy="717.3" r="4.6"/><circle cx="331.2" cy="699.8" r="4.6"/><circle cx="358.4" cy="678.9" r="4.6"/><circle cx="385.5" cy="664.1" r="4.6"/><circle cx="412.6" cy="650.6" r="4.6"/><circle cx="439.8" cy="635.7" r="4.6"/><circle cx="466.9" cy="620.0" r="4.6"/><circle cx="494.0" cy="600.9" r="4.6"/><circle cx="521.2" cy="582.5" r="4.6"/><circle cx="548.3" cy="566.7" r="4.6"/><circle cx="575.4" cy="558.7" r="4.6"/><circle cx="602.5" cy="547.7" r="4.6"/><circle cx="629.7" cy="535.6" r="4.6"/></g>
<g fill="#c2b9b0"><circle cx="114.2" cy="857.5" r="4.6"/><circle cx="141.3" cy="838.3" r="4.6"/><circle cx="168.5" cy="810.9" r="4.6"/><circle cx="195.6" cy="785.7" r="4.6"/><circle cx="222.7" cy="768.6" r="4.6"/><circle cx="249.8" cy="725.9" r="4.6"/><circle cx="277.0" cy="704.1" r="4.6"/><circle cx="304.1" cy="681.3" r="4.6"/><circle cx="331.2" cy="667.3" r="4.6"/><circle cx="358.4" cy="644.9" r="4.6"/><circle cx="385.5" cy="627.2" r="4.6"/><circle cx="412.6" cy="610.4" r="4.6"/><circle cx="439.8" cy="596.2" r="4.6"/><circle cx="466.9" cy="582.5" r="4.6"/><circle cx="494.0" cy="562.4" r="4.6"/><circle cx="521.2" cy="543.8" r="4.6"/><circle cx="548.3" cy="530.0" r="4.6"/><circle cx="575.4" cy="525.3" r="4.6"/></g>
<g fill="#c2b9b0"><circle cx="114.2" cy="854.4" r="4.6"/><circle cx="141.3" cy="847.7" r="4.6"/><circle cx="168.5" cy="806.0" r="4.6"/><circle cx="195.6" cy="803.8" r="4.6"/><circle cx="222.7" cy="783.7" r="4.6"/><circle cx="249.8" cy="742.1" r="4.6"/><circle cx="277.0" cy="730.3" r="4.6"/><circle cx="304.1" cy="703.8" r="4.6"/><circle cx="331.2" cy="687.4" r="4.6"/><circle cx="358.4" cy="673.7" r="4.6"/><circle cx="385.5" cy="648.4" r="4.6"/><circle cx="412.6" cy="636.7" r="4.6"/><circle cx="439.8" cy="607.4" r="4.6"/><circle cx="466.9" cy="583.2" r="4.6"/><circle cx="494.0" cy="570.4" r="4.6"/></g>
<g fill="#c2b9b0"><circle cx="114.2" cy="860.0" r="4.6"/><circle cx="141.3" cy="821.1" r="4.6"/><circle cx="168.5" cy="801.8" r="4.6"/><circle cx="195.6" cy="785.1" r="4.6"/><circle cx="222.7" cy="755.1" r="4.6"/><circle cx="249.8" cy="726.6" r="4.6"/><circle cx="277.0" cy="711.5" r="4.6"/><circle cx="304.1" cy="685.9" r="4.6"/><circle cx="331.2" cy="672.1" r="4.6"/><circle cx="358.4" cy="667.0" r="4.6"/><circle cx="385.5" cy="660.6" r="4.6"/><circle cx="412.6" cy="654.3" r="4.6"/><circle cx="439.8" cy="648.2" r="4.6"/><circle cx="466.9" cy="638.4" r="4.6"/><circle cx="494.0" cy="627.6" r="4.6"/><circle cx="521.2" cy="621.5" r="4.6"/><circle cx="548.3" cy="613.8" r="4.6"/><circle cx="575.4" cy="609.1" r="4.6"/><circle cx="602.5" cy="599.8" r="4.6"/><circle cx="629.7" cy="591.5" r="4.6"/></g>
<g fill="#c2b9b0"><circle cx="114.2" cy="855.2" r="4.6"/><circle cx="141.3" cy="840.2" r="4.6"/><circle cx="168.5" cy="823.7" r="4.6"/><circle cx="195.6" cy="803.0" r="4.6"/><circle cx="222.7" cy="784.4" r="4.6"/><circle cx="249.8" cy="770.0" r="4.6"/><circle cx="277.0" cy="750.1" r="4.6"/><circle cx="304.1" cy="735.0" r="4.6"/><circle cx="331.2" cy="715.9" r="4.6"/><circle cx="358.4" cy="700.8" r="4.6"/><circle cx="385.5" cy="688.3" r="4.6"/><circle cx="412.6" cy="663.0" r="4.6"/><circle cx="439.8" cy="632.3" r="4.6"/><circle cx="466.9" cy="625.4" r="4.6"/><circle cx="494.0" cy="609.1" r="4.6"/><circle cx="521.2" cy="597.0" r="4.6"/></g>
<g fill="#c2b9b0"><circle cx="114.2" cy="860.8" r="4.6"/><circle cx="141.3" cy="806.8" r="4.6"/><circle cx="168.5" cy="754.2" r="4.6"/><circle cx="195.6" cy="702.2" r="4.6"/><circle cx="222.7" cy="673.3" r="4.6"/><circle cx="249.8" cy="651.1" r="4.6"/><circle cx="277.0" cy="633.4" r="4.6"/><circle cx="304.1" cy="616.5" r="4.6"/></g>
<g fill="#70dce6"><circle cx="114.2" cy="856.7" r="4.6"/><circle cx="141.3" cy="844.2" r="4.6"/><circle cx="168.5" cy="828.7" r="4.6"/><circle cx="195.6" cy="822.1" r="4.6"/><circle cx="222.7" cy="816.5" r="4.6"/><circle cx="249.8" cy="807.7" r="4.6"/><circle cx="277.0" cy="797.4" r="4.6"/><circle cx="304.1" cy="792.1" r="4.6"/><circle cx="331.2" cy="787.4" r="4.6"/><circle cx="358.4" cy="782.4" r="4.6"/><circle cx="385.5" cy="776.7" r="4.6"/><circle cx="412.6" cy="771.1" r="4.6"/><circle cx="439.8" cy="761.0" r="4.6"/><circle cx="466.9" cy="754.0" r="4.6"/><circle cx="494.0" cy="741.1" r="4.6"/><circle cx="521.2" cy="733.3" r="4.6"/><circle cx="548.3" cy="726.2" r="4.6"/><circle cx="575.4" cy="724.8" r="4.6"/><circle cx="602.5" cy="714.1" r="4.6"/><circle cx="629.7" cy="706.1" r="4.6"/><circle cx="656.8" cy="697.9" r="4.6"/><circle cx="683.9" cy="693.3" r="4.6"/><circle cx="711.1" cy="684.9" r="4.6"/><circle cx="738.2" cy="682.1" r="4.6"/><circle cx="765.3" cy="678.5" r="4.6"/><circle cx="792.5" cy="676.5" r="4.6"/><circle cx="819.6" cy="674.1" r="4.6"/><circle cx="846.7" cy="670.9" r="4.6"/><circle cx="873.8" cy="667.1" r="4.6"/><circle cx="901.0" cy="661.0" r="4.6"/><circle cx="928.1" cy="659.7" r="4.6"/><circle cx="955.2" cy="657.3" r="4.6"/><circle cx="982.4" cy="653.6" r="4.6"/><circle cx="1009.5" cy="646.1" r="4.6"/></g>
<path d="M114.2 859.1 L141.3 855.9 L168.5 854.4 L195.6 852.9 L222.7 852.9 L249.8 847.7 L277.0 838.9 L304.1 833.9 L331.2 827.0 L358.4 827.0 L385.5 821.6 L412.6 812.7 L439.8 808.2 L466.9 803.0 L494.0 798.1 L521.2 792.8 L548.3 786.8 L575.4 779.2 L602.5 765.6 L629.7 757.5 L656.8 748.4 L683.9 738.8 L711.1 734.4 L738.2 725.1 L765.3 717.4 L792.5 707.2 L819.6 700.6" fill="none" stroke="#70dce6" stroke-width="4.4" stroke-linejoin="round" stroke-linecap="butt"/>
<g fill="#70dce6"><circle cx="114.2" cy="859.1" r="4.6"/><circle cx="141.3" cy="855.9" r="4.6"/><circle cx="168.5" cy="854.4" r="4.6"/><circle cx="195.6" cy="852.9" r="4.6"/><circle cx="222.7" cy="852.9" r="4.6"/><circle cx="249.8" cy="847.7" r="4.6"/><circle cx="277.0" cy="838.9" r="4.6"/><circle cx="304.1" cy="833.9" r="4.6"/><circle cx="331.2" cy="827.0" r="4.6"/><circle cx="358.4" cy="827.0" r="4.6"/><circle cx="385.5" cy="821.6" r="4.6"/><circle cx="412.6" cy="812.7" r="4.6"/><circle cx="439.8" cy="808.2" r="4.6"/><circle cx="466.9" cy="803.0" r="4.6"/><circle cx="494.0" cy="798.1" r="4.6"/><circle cx="521.2" cy="792.8" r="4.6"/><circle cx="548.3" cy="786.8" r="4.6"/><circle cx="575.4" cy="779.2" r="4.6"/><circle cx="602.5" cy="765.6" r="4.6"/><circle cx="629.7" cy="757.5" r="4.6"/><circle cx="656.8" cy="748.4" r="4.6"/><circle cx="683.9" cy="738.8" r="4.6"/><circle cx="711.1" cy="734.4" r="4.6"/><circle cx="738.2" cy="725.1" r="4.6"/><circle cx="765.3" cy="717.4" r="4.6"/><circle cx="792.5" cy="707.2" r="4.6"/></g>
<path d="M114.2 860.8 L141.3 860.8 L168.5 856.7 L195.6 856.7 L222.7 855.2 L249.8 854.4 L277.0 849.9 L304.1 849.1 L331.2 845.6 L358.4 841.5 L385.5 838.9 L412.6 833.9 L439.8 832.1 L466.9 827.0 L494.0 823.7 L521.2 820.6 L548.3 811.3 L575.4 799.7 L602.5 782.4 L629.7 777.0 L656.8 764.6 L683.9 754.9 L711.1 748.2 L738.2 743.1 L765.3 734.8" fill="none" stroke="#70dce6" stroke-width="4.4" stroke-linejoin="round" stroke-linecap="butt"/>
<g fill="#70dce6"><circle cx="114.2" cy="860.8" r="4.6"/><circle cx="141.3" cy="860.8" r="4.6"/><circle cx="168.5" cy="856.7" r="4.6"/><circle cx="195.6" cy="856.7" r="4.6"/><circle cx="222.7" cy="855.2" r="4.6"/><circle cx="249.8" cy="854.4" r="4.6"/><circle cx="277.0" cy="849.9" r="4.6"/><circle cx="304.1" cy="849.1" r="4.6"/><circle cx="331.2" cy="845.6" r="4.6"/><circle cx="358.4" cy="841.5" r="4.6"/><circle cx="385.5" cy="838.9" r="4.6"/><circle cx="412.6" cy="833.9" r="4.6"/><circle cx="439.8" cy="832.1" r="4.6"/><circle cx="466.9" cy="827.0" r="4.6"/><circle cx="494.0" cy="823.7" r="4.6"/><circle cx="521.2" cy="820.6" r="4.6"/><circle cx="548.3" cy="811.3" r="4.6"/><circle cx="575.4" cy="799.7" r="4.6"/><circle cx="602.5" cy="782.4" r="4.6"/><circle cx="629.7" cy="777.0" r="4.6"/><circle cx="656.8" cy="764.6" r="4.6"/><circle cx="683.9" cy="754.9" r="4.6"/><circle cx="711.1" cy="748.2" r="4.6"/><circle cx="738.2" cy="743.1" r="4.6"/></g>
<path d="M331.2 608.4 L358.4 581.0 L385.5 526.7 L412.6 518.4 L439.8 493.9 L466.9 478.4 L494.0 462.3 L521.2 434.3 L548.3 420.1 L575.4 404.8 L602.5 392.6 L629.7 383.5 L656.8 374.4 L683.9 368.0 L711.1 361.5 L738.2 342.7 L765.3 332.6 L792.5 326.6 L819.6 321.3 L846.7 316.4 L873.8 314.7 L901.0 312.9 L928.1 311.2 L955.2 309.5 L982.4 309.0 L1009.5 308.6 L1036.6 308.0 L1063.8 306.5 L1090.9 301.5" fill="none" stroke="#f2a530" stroke-width="4.4" stroke-linejoin="round" stroke-linecap="butt"/>
<g fill="#f2a530"><circle cx="114.2" cy="844.9" r="4.6"/><circle cx="141.3" cy="803.8" r="4.6"/><circle cx="168.5" cy="771.7" r="4.6"/><circle cx="195.6" cy="737.2" r="4.6"/><circle cx="222.7" cy="719.1" r="4.6"/><circle cx="249.8" cy="706.1" r="4.6"/><circle cx="277.0" cy="676.1" r="4.6"/><circle cx="304.1" cy="640.8" r="4.6"/><circle cx="331.2" cy="608.4" r="4.6"/><circle cx="358.4" cy="581.0" r="4.6"/><circle cx="385.5" cy="526.7" r="4.6"/><circle cx="412.6" cy="518.4" r="4.6"/><circle cx="439.8" cy="493.9" r="4.6"/><circle cx="466.9" cy="478.4" r="4.6"/><circle cx="494.0" cy="462.3" r="4.6"/><circle cx="521.2" cy="434.3" r="4.6"/><circle cx="548.3" cy="420.1" r="4.6"/><circle cx="575.4" cy="404.8" r="4.6"/><circle cx="602.5" cy="392.6" r="4.6"/><circle cx="629.7" cy="383.5" r="4.6"/><circle cx="656.8" cy="374.4" r="4.6"/><circle cx="683.9" cy="368.0" r="4.6"/><circle cx="711.1" cy="361.5" r="4.6"/><circle cx="738.2" cy="342.7" r="4.6"/><circle cx="765.3" cy="332.6" r="4.6"/><circle cx="792.5" cy="326.6" r="4.6"/><circle cx="819.6" cy="321.3" r="4.6"/><circle cx="846.7" cy="316.4" r="4.6"/><circle cx="873.8" cy="314.7" r="4.6"/><circle cx="901.0" cy="312.9" r="4.6"/><circle cx="928.1" cy="311.2" r="4.6"/><circle cx="955.2" cy="309.5" r="4.6"/><circle cx="982.4" cy="309.0" r="4.6"/><circle cx="1009.5" cy="308.6" r="4.6"/><circle cx="1036.6" cy="308.0" r="4.6"/><circle cx="1063.8" cy="306.5" r="4.6"/></g>
<path d="M114.2 857.5 L141.3 801.3 L168.5 738.6 L195.6 711.1 L222.7 684.0 L249.8 670.7 L277.0 649.4 L304.1 621.3 L331.2 598.0 L358.4 573.1 L385.5 558.9 L412.6 546.4 L439.8 531.5 L466.9 524.8 L494.0 518.1 L521.2 511.5 L548.3 506.0 L575.4 502.8 L602.5 501.0 L629.7 500.6 L656.8 497.9 L683.9 496.7 L711.1 495.6 L738.2 494.5 L765.3 493.7 L792.5 492.9 L819.6 492.1 L846.7 491.2 L873.8 489.7 L901.0 488.8 L928.1 487.4 L955.2 485.9 L982.4 485.2 L1009.5 484.3 L1036.6 483.3" fill="none" stroke="#70dce6" stroke-width="4.4" stroke-linejoin="round" stroke-linecap="butt"/>
<g fill="#70dce6"><circle cx="114.2" cy="857.5" r="4.6"/><circle cx="141.3" cy="801.3" r="4.6"/><circle cx="168.5" cy="738.6" r="4.6"/><circle cx="195.6" cy="711.1" r="4.6"/><circle cx="222.7" cy="684.0" r="4.6"/><circle cx="249.8" cy="670.7" r="4.6"/><circle cx="277.0" cy="649.4" r="4.6"/><circle cx="304.1" cy="621.3" r="4.6"/><circle cx="331.2" cy="598.0" r="4.6"/><circle cx="358.4" cy="573.1" r="4.6"/><circle cx="385.5" cy="558.9" r="4.6"/><circle cx="412.6" cy="546.4" r="4.6"/><circle cx="439.8" cy="531.5" r="4.6"/><circle cx="466.9" cy="524.8" r="4.6"/><circle cx="494.0" cy="518.1" r="4.6"/><circle cx="521.2" cy="511.5" r="4.6"/><circle cx="548.3" cy="506.0" r="4.6"/><circle cx="575.4" cy="502.8" r="4.6"/><circle cx="602.5" cy="501.0" r="4.6"/><circle cx="629.7" cy="500.6" r="4.6"/><circle cx="656.8" cy="497.9" r="4.6"/><circle cx="683.9" cy="496.7" r="4.6"/><circle cx="711.1" cy="495.6" r="4.6"/><circle cx="738.2" cy="494.5" r="4.6"/><circle cx="765.3" cy="493.7" r="4.6"/><circle cx="792.5" cy="492.9" r="4.6"/><circle cx="819.6" cy="492.1" r="4.6"/><circle cx="846.7" cy="491.2" r="4.6"/><circle cx="873.8" cy="489.7" r="4.6"/><circle cx="901.0" cy="488.8" r="4.6"/><circle cx="928.1" cy="487.4" r="4.6"/><circle cx="955.2" cy="485.9" r="4.6"/><circle cx="982.4" cy="485.2" r="4.6"/><circle cx="1009.5" cy="484.3" r="4.6"/></g>
<path d="M114.2 860.8 L141.3 833.3 L168.5 786.1 L195.6 747.7 L222.7 712.4 L249.8 670.6 L277.0 634.9 L304.1 598.0 L331.2 579.3 L358.4 564.0 L385.5 538.9 L412.6 521.8 L439.8 511.8 L466.9 504.6 L494.0 494.9 L521.2 485.5 L548.3 476.1 L575.4 466.1 L602.5 456.6 L629.7 449.0 L656.8 443.0 L683.9 436.7 L711.1 430.7 L738.2 425.9 L765.3 420.4 L792.5 416.4 L819.6 412.4 L846.7 407.1 L873.8 401.0 L901.0 393.9 L928.1 386.8" fill="none" stroke="#9dbf57" stroke-width="4.4" stroke-linejoin="round" stroke-linecap="butt"/>
<g fill="#9dbf57"><circle cx="114.2" cy="860.8" r="4.6"/><circle cx="141.3" cy="833.3" r="4.6"/><circle cx="168.5" cy="786.1" r="4.6"/><circle cx="195.6" cy="747.7" r="4.6"/><circle cx="222.7" cy="712.4" r="4.6"/><circle cx="249.8" cy="670.6" r="4.6"/><circle cx="277.0" cy="634.9" r="4.6"/><circle cx="304.1" cy="598.0" r="4.6"/><circle cx="331.2" cy="579.3" r="4.6"/><circle cx="358.4" cy="564.0" r="4.6"/><circle cx="385.5" cy="538.9" r="4.6"/><circle cx="412.6" cy="521.8" r="4.6"/><circle cx="439.8" cy="511.8" r="4.6"/><circle cx="466.9" cy="504.6" r="4.6"/><circle cx="494.0" cy="494.9" r="4.6"/><circle cx="521.2" cy="485.5" r="4.6"/><circle cx="548.3" cy="476.1" r="4.6"/><circle cx="575.4" cy="466.1" r="4.6"/><circle cx="602.5" cy="456.6" r="4.6"/><circle cx="629.7" cy="449.0" r="4.6"/><circle cx="656.8" cy="443.0" r="4.6"/><circle cx="683.9" cy="436.7" r="4.6"/><circle cx="711.1" cy="430.7" r="4.6"/><circle cx="738.2" cy="425.9" r="4.6"/><circle cx="765.3" cy="420.4" r="4.6"/><circle cx="792.5" cy="416.4" r="4.6"/><circle cx="819.6" cy="412.4" r="4.6"/><circle cx="846.7" cy="407.1" r="4.6"/><circle cx="873.8" cy="401.0" r="4.6"/><circle cx="901.0" cy="393.9" r="4.6"/></g>
<path d="M114.2 856.7 L141.3 824.3 L168.5 791.7 L195.6 763.3 L222.7 734.8 L249.8 704.1 L277.0 678.7 L304.1 658.7 L331.2 624.8 L358.4 609.5 L385.5 592.3 L412.6 574.7 L439.8 556.2 L466.9 540.9 L494.0 521.0 L521.2 502.1 L548.3 483.9 L575.4 475.5 L602.5 458.4 L629.7 442.3 L656.8 429.3 L683.9 414.2 L711.1 401.2 L738.2 390.9 L765.3 381.0 L792.5 370.6 L819.6 359.0 L846.7 347.6 L873.8 336.8 L901.0 328.5 L928.1 322.0 L955.2 315.4 L982.4 309.4 L1009.5 302.7" fill="none" stroke="#66605c" stroke-width="4.4" stroke-linejoin="round" stroke-linecap="butt"/>
<g fill="#66605c"><circle cx="114.2" cy="856.7" r="4.6"/><circle cx="141.3" cy="824.3" r="4.6"/><circle cx="168.5" cy="791.7" r="4.6"/><circle cx="195.6" cy="763.3" r="4.6"/><circle cx="222.7" cy="734.8" r="4.6"/><circle cx="249.8" cy="704.1" r="4.6"/><circle cx="277.0" cy="678.7" r="4.6"/><circle cx="304.1" cy="658.7" r="4.6"/><circle cx="331.2" cy="624.8" r="4.6"/><circle cx="358.4" cy="609.5" r="4.6"/><circle cx="385.5" cy="592.3" r="4.6"/><circle cx="412.6" cy="574.7" r="4.6"/><circle cx="439.8" cy="556.2" r="4.6"/><circle cx="466.9" cy="540.9" r="4.6"/><circle cx="494.0" cy="521.0" r="4.6"/><circle cx="521.2" cy="502.1" r="4.6"/><circle cx="548.3" cy="483.9" r="4.6"/><circle cx="575.4" cy="475.5" r="4.6"/><circle cx="602.5" cy="458.4" r="4.6"/><circle cx="629.7" cy="442.3" r="4.6"/><circle cx="656.8" cy="429.3" r="4.6"/><circle cx="683.9" cy="414.2" r="4.6"/><circle cx="711.1" cy="401.2" r="4.6"/><circle cx="738.2" cy="390.9" r="4.6"/><circle cx="765.3" cy="381.0" r="4.6"/><circle cx="792.5" cy="370.6" r="4.6"/><circle cx="819.6" cy="359.0" r="4.6"/><circle cx="846.7" cy="347.6" r="4.6"/><circle cx="873.8" cy="336.8" r="4.6"/><circle cx="901.0" cy="328.5" r="4.6"/><circle cx="928.1" cy="322.0" r="4.6"/><circle cx="955.2" cy="315.4" r="4.6"/><circle cx="982.4" cy="309.4" r="4.6"/></g>
<path d="M114.2 845.6 L141.3 819.0 L168.5 794.3 L195.6 781.4 L222.7 745.2 L249.8 726.6 L277.0 701.8 L304.1 662.9 L331.2 624.8 L358.4 600.1 L385.5 573.2 L412.6 530.8 L439.8 514.1 L466.9 497.5 L494.0 477.2 L521.2 463.3 L548.3 449.2 L575.4 427.9 L602.5 417.2 L629.7 399.1 L656.8 388.6 L683.9 375.2 L711.1 360.1 L738.2 345.2 L765.3 332.3" fill="none" stroke="#208fce" stroke-width="4.4" stroke-linejoin="round" stroke-linecap="butt"/>
<g fill="#208fce"><circle cx="114.2" cy="845.6" r="4.6"/><circle cx="141.3" cy="819.0" r="4.6"/><circle cx="168.5" cy="794.3" r="4.6"/><circle cx="195.6" cy="781.4" r="4.6"/><circle cx="222.7" cy="745.2" r="4.6"/><circle cx="249.8" cy="726.6" r="4.6"/><circle cx="277.0" cy="701.8" r="4.6"/><circle cx="304.1" cy="662.9" r="4.6"/><circle cx="331.2" cy="624.8" r="4.6"/><circle cx="358.4" cy="600.1" r="4.6"/><circle cx="385.5" cy="573.2" r="4.6"/><circle cx="412.6" cy="530.8" r="4.6"/><circle cx="439.8" cy="514.1" r="4.6"/><circle cx="466.9" cy="497.5" r="4.6"/><circle cx="494.0" cy="477.2" r="4.6"/><circle cx="521.2" cy="463.3" r="4.6"/><circle cx="548.3" cy="449.2" r="4.6"/><circle cx="575.4" cy="427.9" r="4.6"/><circle cx="602.5" cy="417.2" r="4.6"/><circle cx="629.7" cy="399.1" r="4.6"/><circle cx="656.8" cy="388.6" r="4.6"/><circle cx="683.9" cy="375.2" r="4.6"/><circle cx="711.1" cy="360.1" r="4.6"/><circle cx="738.2" cy="345.2" r="4.6"/></g>
<path d="M114.2 849.1 L141.3 820.1 L168.5 800.5 L195.6 777.0 L222.7 763.5 L249.8 749.0 L277.0 734.3 L304.1 712.8 L331.2 687.6 L358.4 657.8 L385.5 641.2 L412.6 632.6 L439.8 613.1 L466.9 588.3 L494.0 570.0 L521.2 553.5 L548.3 534.2 L575.4 523.9 L602.5 510.8 L629.7 494.6 L656.8 480.8 L683.9 463.9" fill="none" stroke="#b3325d" stroke-width="4.4" stroke-linejoin="round" stroke-linecap="butt"/>
<g fill="#b3325d"><circle cx="114.2" cy="849.1" r="4.6"/><circle cx="141.3" cy="820.1" r="4.6"/><circle cx="168.5" cy="800.5" r="4.6"/><circle cx="195.6" cy="777.0" r="4.6"/><circle cx="222.7" cy="763.5" r="4.6"/><circle cx="249.8" cy="749.0" r="4.6"/><circle cx="277.0" cy="734.3" r="4.6"/><circle cx="304.1" cy="712.8" r="4.6"/><circle cx="331.2" cy="687.6" r="4.6"/><circle cx="358.4" cy="657.8" r="4.6"/><circle cx="385.5" cy="641.2" r="4.6"/><circle cx="412.6" cy="632.6" r="4.6"/><circle cx="439.8" cy="613.1" r="4.6"/><circle cx="466.9" cy="588.3" r="4.6"/><circle cx="494.0" cy="570.0" r="4.6"/><circle cx="521.2" cy="553.5" r="4.6"/><circle cx="548.3" cy="534.2" r="4.6"/><circle cx="575.4" cy="523.9" r="4.6"/><circle cx="602.5" cy="510.8" r="4.6"/><circle cx="629.7" cy="494.6" r="4.6"/><circle cx="656.8" cy="480.8" r="4.6"/></g>
<path d="M114.2 855.9 L141.3 813.9 L168.5 794.4 L195.6 758.2 L222.7 733.7 L249.8 670.7 L277.0 644.4 L304.1 623.9 L331.2 603.4 L358.4 594.8 L385.5 573.4 L412.6 544.8 L439.8 511.4 L466.9 479.4 L494.0 448.9 L521.2 420.1 L548.3 401.4 L575.4 370.1 L602.5 355.1 L629.7 338.6 L656.8 322.4 L683.9 304.2" fill="none" stroke="#eb5e8d" stroke-width="4.4" stroke-linejoin="round" stroke-linecap="butt"/>
<g fill="#eb5e8d"><circle cx="114.2" cy="855.9" r="4.6"/><circle cx="141.3" cy="813.9" r="4.6"/><circle cx="168.5" cy="794.4" r="4.6"/><circle cx="195.6" cy="758.2" r="4.6"/><circle cx="222.7" cy="733.7" r="4.6"/><circle cx="249.8" cy="670.7" r="4.6"/><circle cx="277.0" cy="644.4" r="4.6"/><circle cx="304.1" cy="623.9" r="4.6"/><circle cx="331.2" cy="603.4" r="4.6"/><circle cx="358.4" cy="594.8" r="4.6"/><circle cx="385.5" cy="573.4" r="4.6"/><circle cx="412.6" cy="544.8" r="4.6"/><circle cx="439.8" cy="511.4" r="4.6"/><circle cx="466.9" cy="479.4" r="4.6"/><circle cx="494.0" cy="448.9" r="4.6"/><circle cx="521.2" cy="420.1" r="4.6"/><circle cx="548.3" cy="401.4" r="4.6"/><circle cx="575.4" cy="370.1" r="4.6"/><circle cx="602.5" cy="355.1" r="4.6"/><circle cx="629.7" cy="338.6" r="4.6"/><circle cx="656.8" cy="322.4" r="4.6"/></g>
<circle cx="792.5" cy="353.3" r="6.4" fill="#c2b9b0" stroke="#1a1817" stroke-width="1.5"/>
<circle cx="819.6" cy="387.5" r="6.4" fill="#c2b9b0" stroke="#1a1817" stroke-width="1.5"/>
<circle cx="683.9" cy="462.9" r="6.4" fill="#c2b9b0" stroke="#1a1817" stroke-width="1.5"/>
<circle cx="656.8" cy="501.5" r="6.4" fill="#c2b9b0" stroke="#1a1817" stroke-width="1.5"/>
<circle cx="656.8" cy="516.1" r="6.4" fill="#c2b9b0" stroke="#1a1817" stroke-width="1.5"/>
<circle cx="602.5" cy="508.9" r="6.4" fill="#c2b9b0" stroke="#1a1817" stroke-width="1.5"/>
<circle cx="521.2" cy="561.3" r="6.4" fill="#c2b9b0" stroke="#1a1817" stroke-width="1.5"/>
<circle cx="656.8" cy="581.7" r="6.4" fill="#c2b9b0" stroke="#1a1817" stroke-width="1.5"/>
<circle cx="548.3" cy="582.6" r="6.4" fill="#c2b9b0" stroke="#1a1817" stroke-width="1.5"/>
<circle cx="412.6" cy="588.4" r="6.4" fill="#c2b9b0" stroke="#1a1817" stroke-width="1.5"/>
<circle cx="331.2" cy="594.6" r="6.4" fill="#c2b9b0" stroke="#1a1817" stroke-width="1.5"/>
<circle cx="412.6" cy="631.5" r="6.4" fill="#c2b9b0" stroke="#1a1817" stroke-width="1.5"/>
<circle cx="439.8" cy="695.4" r="6.4" fill="#c2b9b0" stroke="#1a1817" stroke-width="1.5"/>
<circle cx="1036.6" cy="640.3" r="6.4" fill="#70dce6" stroke="#1a1817" stroke-width="1.5"/>
<circle cx="819.6" cy="700.6" r="6.4" fill="#70dce6" stroke="#1a1817" stroke-width="1.5"/>
<circle cx="765.3" cy="734.8" r="6.4" fill="#70dce6" stroke="#1a1817" stroke-width="1.5"/>
<circle cx="1090.9" cy="301.5" r="6.4" fill="#f2a530" stroke="#1a1817" stroke-width="1.5"/>
<circle cx="1036.6" cy="483.3" r="6.4" fill="#70dce6" stroke="#1a1817" stroke-width="1.5"/>
<circle cx="928.1" cy="386.8" r="6.4" fill="#9dbf57" stroke="#1a1817" stroke-width="1.5"/>
<circle cx="1009.5" cy="302.7" r="6.4" fill="#66605c" stroke="#1a1817" stroke-width="1.5"/>
<circle cx="765.3" cy="332.3" r="6.4" fill="#208fce" stroke="#1a1817" stroke-width="1.5"/>
<circle cx="683.9" cy="463.9" r="6.4" fill="#b3325d" stroke="#1a1817" stroke-width="1.5"/>
<circle cx="683.9" cy="304.2" r="6.4" fill="#eb5e8d" stroke="#1a1817" stroke-width="1.5"/>
<text x="221.4" y="301.0" font-size="19.3" fill="#66605c" textLength="148.0" lengthAdjust="spacingAndGlyphs" class="h m">CASES DOUBLE</text>
<text x="249.3" y="329.0" font-size="19.3" fill="#66605c" textLength="109.5" lengthAdjust="spacingAndGlyphs" class="h m">EVERY DAY</text>
<text x="678.0" y="205.2" font-size="19.3" fill="#66605c" textLength="79.0" lengthAdjust="spacingAndGlyphs" class="h m">...EVERY</text>
<text x="660.0" y="233.4" font-size="19.3" fill="#66605c" textLength="70.4" lengthAdjust="spacingAndGlyphs" class="h m">2 DAYS</text>
<text x="987.5" y="205.2" font-size="19.3" fill="#66605c" textLength="80.4" lengthAdjust="spacingAndGlyphs" class="h m">...EVERY</text>
<text x="959.0" y="233.4" font-size="19.3" fill="#66605c" textLength="69.6" lengthAdjust="spacingAndGlyphs" class="h m">3 DAYS</text>
<g transform="translate(800 641.4) rotate(-16.9)">
<text x="0.0" y="0.0" font-size="19.3" fill="#66605c" textLength="139.7" lengthAdjust="spacingAndGlyphs" class="h m">...EVERY WEEK</text>
</g>
<text x="804.3" y="361.2" font-size="24" fill="#66605c" textLength="97.0" lengthAdjust="spacingAndGlyphs" class="h">Germany</text>
<text x="831.2" y="395.2" font-size="24" fill="#66605c" textLength="70.5" lengthAdjust="spacingAndGlyphs" class="h">France</text>
<text x="695.8" y="474.9" font-size="24" fill="#66605c" textLength="123.2" lengthAdjust="spacingAndGlyphs" class="h">Switzerland</text>
<text x="670.0" y="508.3" font-size="24" fill="#66605c" textLength="128.8" lengthAdjust="spacingAndGlyphs" class="h">Netherlands</text>
<text x="670.0" y="531.6" font-size="24" fill="#66605c" textLength="85.0" lengthAdjust="spacingAndGlyphs" class="h">Belgium</text>
<text x="557.5" y="535.4" font-size="24" fill="#66605c" textLength="74.3" lengthAdjust="spacingAndGlyphs" class="h">Austria</text>
<text x="534.3" y="569.4" font-size="24" fill="#66605c" textLength="78.6" lengthAdjust="spacingAndGlyphs" class="h">Canada</text>
<text x="668.6" y="589.0" font-size="24" fill="#66605c" textLength="82.8" lengthAdjust="spacingAndGlyphs" class="h">Sweden</text>
<text x="535.4" y="610.7" font-size="24" fill="#66605c" textLength="92.8" lengthAdjust="spacingAndGlyphs" class="h">Australia</text>
<text x="426.4" y="594.6" font-size="24" fill="#66605c" textLength="59.0" lengthAdjust="spacingAndGlyphs" class="h">Brazil</text>
<text x="425.6" y="638.5" font-size="24" fill="#66605c" textLength="71.4" lengthAdjust="spacingAndGlyphs" class="h">Ireland</text>
<text x="452.3" y="702.5" font-size="24" fill="#66605c" textLength="51.2" lengthAdjust="spacingAndGlyphs" class="h">India</text>
<text x="295.7" y="583.6" font-size="24" fill="#66605c" textLength="70.3" lengthAdjust="spacingAndGlyphs" class="h">Turkey</text>
<text x="695.8" y="312.0" font-size="31.5" fill="#eb5e8d" font-weight="700" textLength="40.5" lengthAdjust="spacingAndGlyphs" class="h">US</text>
<text x="662.0" y="451.3" font-size="31.5" fill="#b3325d" font-weight="700" textLength="41.0" lengthAdjust="spacingAndGlyphs" class="h">UK</text>
<text x="777.5" y="334.0" font-size="27" fill="#208fce" font-weight="700" textLength="70.5" lengthAdjust="spacingAndGlyphs" class="h">Spain</text>
<text x="993.8" y="288.8" font-size="26.5" fill="#595350" font-weight="700" textLength="56.0" lengthAdjust="spacingAndGlyphs" class="h">Italy</text>
<text x="940.0" y="394.5" font-size="26" fill="#7d9c33" font-weight="700" textLength="48.8" lengthAdjust="spacingAndGlyphs" class="h">Iran</text>
<text x="1073.0" y="335.3" font-size="28.5" fill="#e18c1a" font-weight="700" textLength="71.5" lengthAdjust="spacingAndGlyphs" class="h">China</text>
<text x="1055.0" y="486.5" font-size="28.5" fill="#16b1ba" font-weight="700" textLength="96.8" lengthAdjust="spacingAndGlyphs" class="h">S Korea</text>
<text x="1015.0" y="610.5" font-size="28.5" fill="#16b1ba" font-weight="700" textLength="74.3" lengthAdjust="spacingAndGlyphs" class="h">Japan</text>
<text x="832.5" y="718.5" font-size="28.5" fill="#16b1ba" font-weight="700" textLength="127.5" lengthAdjust="spacingAndGlyphs" class="h">Singapore</text>
<text x="722.0" y="772.5" font-size="28.5" fill="#16b1ba" font-weight="700" textLength="140.0" lengthAdjust="spacingAndGlyphs" class="h">Hong Kong</text>
<text x="1153.8" y="335.3" font-size="26" fill="#66605c" textLength="124.2" lengthAdjust="spacingAndGlyphs" class="h">had 74,556</text>
<text x="1073.0" y="367.5" font-size="26" fill="#66605c" textLength="179.0" lengthAdjust="spacingAndGlyphs" class="h">cases at 35 days</text>
<text x="942.9" y="514.0" font-size="26" fill="#66605c" textLength="343.5" lengthAdjust="spacingAndGlyphs" class="h">huge test-and-trace programme</text>
<text x="942.9" y="544.1" font-size="26" fill="#66605c" textLength="282.8" lengthAdjust="spacingAndGlyphs" class="h">got on top of the outbreak</text>
<text x="1100.0" y="610.5" font-size="26" fill="#66605c" textLength="209.0" lengthAdjust="spacingAndGlyphs" class="h">strong social norms</text>
<text x="1057.0" y="640.9" font-size="26" fill="#66605c" textLength="238.7" lengthAdjust="spacingAndGlyphs" class="h">around obedience and</text>
<text x="1057.0" y="670.1" font-size="26" fill="#66605c" textLength="149.4" lengthAdjust="spacingAndGlyphs" class="h">mask-wearing</text>
<text x="960.5" y="718.5" font-size="26" fill="#66605c" textLength="435.5" lengthAdjust="spacingAndGlyphs" class="h">: strict quarantine rules &amp; contact tracing</text>
<text x="862.5" y="772.0" font-size="26" fill="#66605c" textLength="533.5" lengthAdjust="spacingAndGlyphs" class="h">: school closures, quarantine, community response</text>
<text x="3.0" y="956.0" font-size="22.5" fill="#66605c" textLength="494.5" lengthAdjust="spacingAndGlyphs">FT graphic: John Burn-Murdoch / @jburnmurdoch</text>
<text x="3.0" y="983.5" font-size="22.5" fill="#66605c" textLength="1181.6" lengthAdjust="spacingAndGlyphs">Source: FT analysis of Johns Hopkins University, CSSE; Worldometers; FT research. Data updated March 26, 19:00 GMT</text>
<text x="3" y="1011" font-size="22.5" fill="#66605c">© <tspan font-style="italic">FT</tspan></text>
</svg></body></html>
